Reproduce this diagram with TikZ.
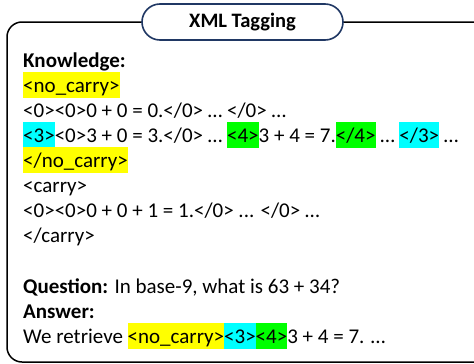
\documentclass[tikz,border=0pt]{standalone}
\usepackage{fontspec}
\setmainfont{Carlito}
\usepackage{xcolor}
\definecolor{hlyellow}{HTML}{FFFF00}
\definecolor{hlcyan}{HTML}{00FFFF}
\definecolor{hlgreen}{HTML}{00FF00}
\definecolor{pillnavy}{HTML}{203864}
\newcommand\hlbox[2]{{\setlength{\fboxsep}{0pt}\colorbox{#1}{\vrule width 0pt height 20pt depth 6pt\relax #2}}}
\tikzset{
  txt/.style={anchor=base west, inner sep=0pt, font=\fontsize{21}{25}\selectfont},
  pill/.style={draw=pillnavy, line width=1.6pt, fill=white, rounded corners=18pt,
    minimum width=201pt, minimum height=36pt, inner sep=0pt,
    font=\fontsize{20.5}{25}\selectfont\bfseries},
  frame/.style={draw=black, line width=1.5pt, rounded corners=15pt}
}
\begin{document}
\begin{tikzpicture}[x=1pt,y=1pt]
\useasboundingbox (0,0) rectangle (474,-364);
\clip (0,0) rectangle (474,-364);
\draw[frame] (7,-22) rectangle (492,-362);
\node[pill] (title) at (242.5,-22) {XML Tagging};
\node[txt] (l1) at (23,-67) {\textbf{Knowledge:}};
\node[txt] (l2) at (23,-92) {\hlbox{hlyellow}{<no\_carry>}};
\node[txt] (l3) at (23,-117) {<0><0>0 + 0 = 0.</0> … </0> …};
\node[txt] (l4) at (23,-142) {\hlbox{hlcyan}{<3>}<0>3 + 0 = 3.</0> … \hlbox{hlgreen}{<4>}3 + 4 = 7.\hlbox{hlgreen}{</4>} … \hlbox{hlcyan}{</3>} …};
\node[txt] (l5) at (23,-167) {\hlbox{hlyellow}{</no\_carry>}};
\node[txt] (l6) at (23,-192) {<carry>};
\node[txt] (l7) at (23,-217) {<0><0>0 + 0 + 1 = 1.</0> ... </0> …};
\node[txt] (l8) at (23,-242) {</carry>};
\node[txt] (l9) at (23,-293) {\textbf{Question:} In base-9, what is 63 + 34?};
\node[txt] (l10) at (23,-318) {\textbf{Answer:}};
\node[txt] (l11) at (23,-343) {We retrieve \hlbox{hlyellow}{<no\_carry>}\hlbox{hlcyan}{<3>}\hlbox{hlgreen}{<4>}3 + 4 = 7. …};
\end{tikzpicture}
\end{document}
